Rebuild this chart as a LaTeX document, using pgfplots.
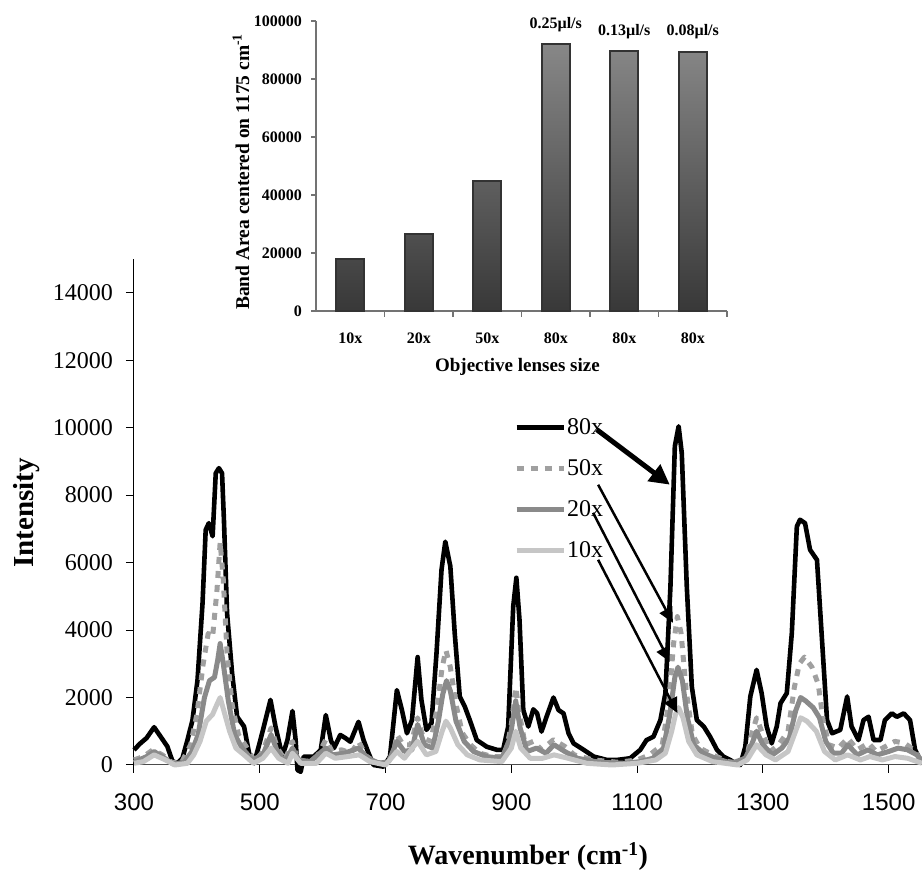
\documentclass[border=0pt]{standalone}
\usepackage{pgfplots}
\pgfplotsset{compat=1.18}
\usepackage{fontspec}
\setmainfont{Liberation Serif}
\setsansfont{Liberation Sans}
\usetikzlibrary{arrows.meta}
\definecolor{c50}{HTML}{A0A0A0}
\definecolor{c20}{HTML}{8A8A8A}
\definecolor{c10}{HTML}{C6C6C6}
\begin{document}
\begin{tikzpicture}
\useasboundingbox (0,0) rectangle (922pt,873pt);
\begin{axis}[
  at={(134pt,108pt)}, anchor=south west,
  scale only axis, width=788pt, height=506pt,
  xmin=300, xmax=1553, ymin=0, ymax=15000,
  axis x line*=bottom, axis y line*=left,
  x axis line style={black!70, line width=1pt},
  y axis line style={black, line width=1pt},
  xtick={300,500,...,1500},
  ytick={0,2000,...,14000},
  tick align=outside, major tick length=8pt,
  tick style={black, line width=1pt},
  scaled ticks=false,
  /pgf/number format/assume math mode=true,
  /pgf/number format/fixed,
  /pgf/number format/precision=0,
  /pgf/number format/set thousands separator={},
  xticklabel shift=21pt,
  yticklabel shift=13pt,
  xticklabel style={font=\sffamily\fontsize{24}{24}\selectfont, inner sep=0pt},
  yticklabel style={font=\fontsize{24}{24}\selectfont, inner sep=0pt},
  xlabel={Wavenumber (cm\textsuperscript{-1})},
  xlabel style={font=\bfseries\fontsize{28}{28}\selectfont, at={(axis description cs:0.5,-0.18)}, anchor=center},
  ylabel={Intensity},
  ylabel style={font=\bfseries\fontsize{29}{29}\selectfont, at={(axis description cs:-0.1358,0.498)}, anchor=center},
  clip=false,
  line join=round,
  legend style={draw=none, fill=none, inner sep=0pt, at={(axis cs:904,10297)}, anchor=north west,
    font=\fontsize{24}{24}\selectfont, row sep=21.5pt, nodes={inner sep=1pt}},
  legend cell align=left,
  legend image code/.code={\draw[#1] (0pt,0pt) -- (47pt,0pt);},
]
\addplot[black, line width=4.6pt] coordinates {
(300,450) (310,640) (320,800) (332,1120) (342,850) (353,550) (361,120) (369,50) (377,200) (385,740)
(393,1330) (401,2520) (409,4800) (414,6970) (419,7170) (425,6780) (430,8650) (435,8800) (440,8650) (443,7270)
(448,4500) (456,2720) (464,1430) (475,1140) (483,350) (491,50) (501,740) (509,1330) (517,1930) (525,1140)
(536,250) (544,740) (552,1600) (557,740) (560,-150) (565,-200) (570,250) (586,250) (597,450) (605,1480)
(613,740) (618,500) (628,890) (636,800) (644,690) (657,1280) (665,740) (673,350) (681,0) (697,-50)
(707,250) (718,2220) (726,1630) (734,940) (742,1330) (751,3200) (757,1930) (765,1040) (773,1240) (781,3310)
(789,5790) (795,6620) (803,5890) (810,3900) (818,2030) (826,1730) (834,1330) (845,740) (861,540) (877,450)
(887,450) (895,1140) (903,4700) (908,5550) (913,4300) (919,1630) (927,1140) (935,1650) (941,1530) (948,990)
(956,1430) (967,2000) (975,1630) (983,1530) (991,940) (999,640) (1015,450) (1031,250) (1052,150) (1068,150)
(1089,200) (1105,450) (1115,740) (1126,840) (1137,1330) (1145,2130) (1153,5290) (1160,9450) (1166,10040) (1171,9250)
(1179,5290) (1187,2320) (1195,1330) (1206,1140) (1216,840) (1227,450) (1237,250) (1248,150) (1256,50) (1264,0)
(1272,540) (1280,2030) (1290,2820) (1298,2130) (1306,1140) (1314,640) (1322,1140) (1328,1830) (1338,2130) (1346,3910)
(1354,7070) (1359,7270) (1367,7170) (1375,6380) (1386,6080) (1394,3710) (1402,1330) (1410,940) (1423,1040) (1434,2030)
(1441,1140) (1452,740) (1460,1330) (1468,1430) (1476,740) (1487,740) (1494,1330) (1505,1530) (1513,1430) (1524,1530)
(1534,1330) (1542,450) (1553,50)
};
\addlegendentry{80x}
\addplot[c50, line width=5pt, dash pattern=on 7pt off 7pt] coordinates {
(300,150) (315,250) (330,450) (345,300) (360,80) (375,50) (390,600) (400,1500) (410,3000) (418,3900)
(425,3800) (432,5200) (437,6600) (442,5500) (448,3300) (456,1800) (466,900) (480,500) (492,100) (505,400)
(518,1100) (528,500) (540,150) (552,700) (560,150) (575,100) (590,200) (605,750) (615,400) (630,450)
(645,350) (657,700) (670,250) (685,80) (700,50) (712,300) (718,900) (728,600) (740,600) (751,1400)
(760,800) (772,700) (782,1700) (790,2900) (796,3400) (803,2900) (812,1800) (822,950) (835,600) (850,350)
(870,250) (890,250) (900,1200) (907,2300) (913,1500) (922,600) (935,700) (948,450) (967,750) (985,550)
(1000,300) (1030,150) (1070,80) (1100,150) (1120,300) (1140,600) (1150,1800) (1158,3600) (1164,4400) (1170,3900)
(1178,2200) (1188,900) (1200,500) (1220,300) (1245,100) (1265,50) (1275,300) (1282,900) (1290,1400) (1300,900)
(1312,400) (1325,600) (1340,1000) (1350,2300) (1358,3000) (1366,3200) (1378,2900) (1388,2400) (1396,1300) (1405,600)
(1420,500) (1435,800) (1450,450) (1468,650) (1480,400) (1495,550) (1510,700) (1525,650) (1540,450) (1553,100)
};
\addlegendentry{50x}
\addplot[c20, line width=5pt] coordinates {
(300,80) (320,250) (332,400) (345,250) (362,30) (380,80) (392,400) (402,900) (412,2000) (420,2500)
(428,2600) (433,3100) (437,3600) (442,3000) (450,1900) (460,900) (472,500) (488,150) (505,300) (518,900)
(528,400) (540,100) (552,500) (562,150) (580,100) (605,500) (615,300) (635,350) (657,500) (672,200)
(690,50) (705,100) (718,700) (730,400) (742,450) (751,1200) (762,600) (775,500) (784,1300) (791,2100)
(797,2500) (803,2200) (812,1300) (825,700) (840,400) (860,250) (885,200) (898,800) (907,1900) (914,1100)
(925,400) (940,500) (955,350) (968,600) (985,400) (1005,200) (1040,80) (1080,50) (1105,100) (1125,200)
(1142,500) (1152,1500) (1160,2600) (1165,2900) (1172,2500) (1180,1400) (1190,600) (1205,350) (1225,200) (1250,50)
(1272,200) (1282,600) (1290,1000) (1300,600) (1315,300) (1330,500) (1342,800) (1352,1600) (1360,2000) (1368,1900)
(1380,1700) (1390,1400) (1400,700) (1412,350) (1425,350) (1435,600) (1450,300) (1467,450) (1482,300) (1500,400)
(1515,500) (1530,450) (1545,300) (1553,100)
};
\addlegendentry{20x}
\addplot[c10, line width=5pt] coordinates {
(300,50) (315,100) (332,300) (350,150) (365,0) (385,50) (395,300) (405,700) (415,1300) (425,1500)
(432,1800) (437,2000) (443,1600) (452,1000) (462,500) (475,300) (490,50) (505,200) (518,500) (530,200)
(545,50) (552,350) (565,50) (590,50) (605,350) (620,200) (640,250) (658,300) (675,100) (700,0)
(718,400) (730,200) (751,700) (765,300) (780,400) (790,1000) (796,1300) (803,1100) (815,600) (830,300)
(850,150) (885,100) (900,500) (907,1000) (915,500) (930,200) (950,200) (968,300) (990,200) (1020,50)
(1060,0) (1100,50) (1130,150) (1145,350) (1155,1000) (1161,1500) (1166,1700) (1173,1400) (1182,700) (1195,300)
(1220,100) (1260,0) (1275,150) (1290,600) (1305,300) (1320,150) (1340,400) (1352,1000) (1360,1400) (1370,1300)
(1385,1000) (1398,400) (1415,150) (1435,300) (1455,150) (1470,250) (1490,150) (1510,250) (1530,200) (1553,50)
};
\addlegendentry{10x}
\draw[black, line width=5pt, -{Triangle[length=20pt,width=20pt]}] (axis cs:1036,9941) -- (axis cs:1152,8309);
\draw[black, line width=2.5pt, -{Triangle[length=15pt,width=14pt]}] (axis cs:1038,8309) -- (axis cs:1157,4214);
\draw[black, line width=2.5pt, -{Triangle[length=15pt,width=14pt]}] (axis cs:1030,7478) -- (axis cs:1152,3056);
\draw[black, line width=2.5pt, -{Triangle[length=15pt,width=14pt]}] (axis cs:1038,6083) -- (axis cs:1164,1543);
\end{axis}
\begin{axis}[
  at={(316pt,562pt)}, anchor=south west,
  scale only axis, width=411pt, height=290pt,
  xmin=-0.5, xmax=5.5, ymin=0, ymax=100000,
  axis x line*=bottom, axis y line*=left,
  axis line style={black!55, line width=1.2pt},
  xtick={0,...,5}, xticklabels={10x,20x,50x,80x,80x,80x},
  major x tick style={draw=none},
  minor xtick={0.5,1.5,2.5,3.5,4.5,5.5},
  ytick={0,20000,...,100000},
  tick align=outside, major tick length=5pt, minor tick length=6pt,
  tick style={black!55, line width=1.2pt},
  scaled ticks=false,
  /pgf/number format/assume math mode=true,
  /pgf/number format/fixed,
  /pgf/number format/precision=0,
  /pgf/number format/set thousands separator={},
  xticklabel style={font=\bfseries\fontsize{16}{16}\selectfont, anchor=center, inner sep=0pt, yshift=-22pt},
  yticklabel style={font=\bfseries\fontsize{16}{16}\selectfont, anchor=east, inner sep=0pt, xshift=-9pt},
  xlabel={Objective lenses size},
  xlabel style={font=\bfseries\fontsize{19}{19}\selectfont, at={(axis description cs:0.49,-0.193)}, anchor=center},
  ylabel={Band Area centered on 1175 cm\textsuperscript{-1}},
  ylabel style={font=\bfseries\fontsize{19.5}{19.5}\selectfont, at={(axis description cs:-0.1825,0.48)}, anchor=center},
  ybar, bar width=28pt,
  clip=false,
]
\addplot[draw=black!80, line width=2pt, top color=black!47, bottom color=black!78] coordinates {
(0,17800) (1,26600) (2,44800) (3,92000) (4,89700) (5,89200)};
\node[font=\bfseries\fontsize{16}{16}\selectfont] at (axis cs:3,98600) {0.25µl/s};
\node[font=\bfseries\fontsize{16}{16}\selectfont] at (axis cs:4,96200) {0.13µl/s};
\node[font=\bfseries\fontsize{16}{16}\selectfont] at (axis cs:5,96200) {0.08µl/s};
\end{axis}
\end{tikzpicture}
\end{document}
